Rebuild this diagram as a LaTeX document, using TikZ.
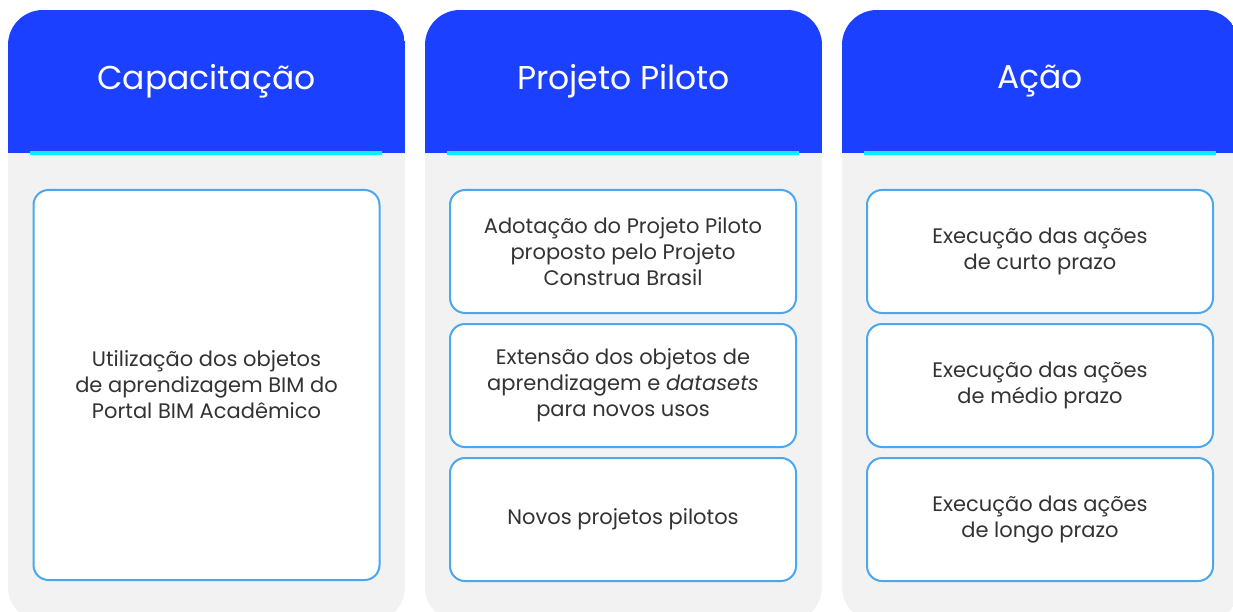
\documentclass[tikz,border=0pt]{standalone}
\usepackage{fontspec}
\setmainfont{Poppins}
\usetikzlibrary{positioning}

\definecolor{headblue}{HTML}{1C40FF}
\definecolor{sepcyan}{HTML}{00F2FF}
\definecolor{panelgray}{HTML}{F2F2F2}
\definecolor{cardline}{HTML}{4CA8EE}
\definecolor{bodytext}{HTML}{333333}

\begin{document}
\begin{tikzpicture}[x=1pt,y=-1pt,
        colhead/.style = {
            text=white,
            font=\fontsize{33}{38}\selectfont
        },
        card/.style = {
            draw=cardline,
            line width=2pt,
            fill=white,
            rounded corners=15pt,
            minimum width=346pt,
            minimum height=123pt,
            inner sep=0pt,
            align=center,
            text=bodytext,
            font=\fontsize{21}{26}\selectfont
        },node distance=9pt]

        \clip (0,0) rectangle (1233,612);

        % panels
        \begin{scope}
            \clip[rounded corners=35pt] (8,10) rectangle (405,622);
            \fill[panelgray] (8,10) rectangle (405,622);
            \fill[headblue] (8,10) rectangle (405,153);
        \end{scope}
        \begin{scope}
            \clip[rounded corners=35pt] (425,10) rectangle (822,622);
            \fill[panelgray] (425,10) rectangle (822,622);
            \fill[headblue] (425,10) rectangle (822,153);
        \end{scope}
        \begin{scope}
            \clip[rounded corners=35pt] (842,10) rectangle (1239,622);
            \fill[panelgray] (842,10) rectangle (1239,622);
            \fill[headblue] (842,10) rectangle (1239,153);
        \end{scope}
        \draw[sepcyan, line width=4pt] (30,153) -- (382,153);
        \draw[sepcyan, line width=4pt] (447,153) -- (799,153);
        \draw[sepcyan, line width=4pt] (864,153) -- (1216,153);

        % headers
        \node[colhead] (cap) at (206.5,81) {Capacitação};
        \node[colhead] (pil) at (623.5,81) {Projeto Piloto};
        \node[colhead] (aca) at (1040,81) {Ação};

        % cards
        \node[card, minimum height=390pt] (uso) at (206.5,385) {Utilização dos objetos\\de aprendizagem BIM do\\Portal BIM Acadêmico};

        \node[card] (adot) at (623,251.5) {Adotação do Projeto Piloto\\proposto pelo Projeto\\Construa Brasil};
        \node[card, below=of adot] (ext) {Extensão dos objetos de\\aprendizagem e \textit{datasets}\\para novos usos};
        \node[card, below=of ext] (novo) {Novos projetos pilotos};

        \node[card] (curto) at (1040,251.5) {Execução das ações\\de curto prazo};
        \node[card, below=of curto] (medio) {Execução das ações\\de médio prazo};
        \node[card, below=of medio] (longo) {Execução das ações\\de longo prazo};
    \end{tikzpicture}
\end{document}
